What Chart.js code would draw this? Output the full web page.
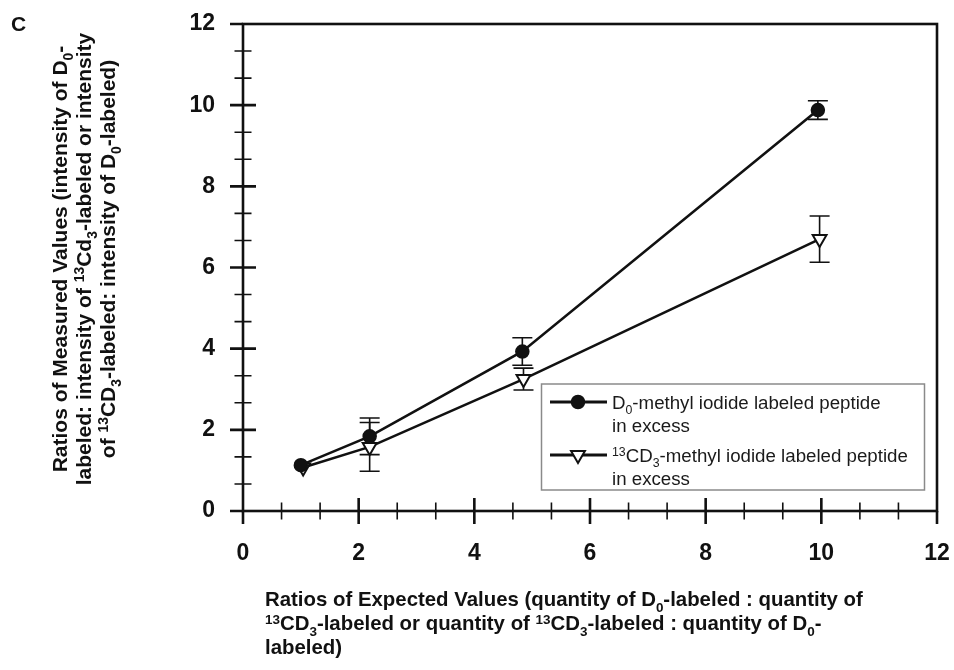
<!DOCTYPE html>
<html>
<head>
<meta charset="utf-8">
<script src="https://cdn.jsdelivr.net/npm/chart.js@4.4.1/dist/chart.umd.min.js"></script>
<style>
  html, body { margin: 0; padding: 0; background: #fff; }
  #wrap { width: 954px; height: 670px; }
</style>
</head>
<body>
<div id="wrap"><canvas id="chart" width="954" height="670"></canvas></div>
<script>
// expected ratios (x) and measured ratios (y) with error bars
const expectedD0 = [1.0, 2.19, 4.83, 9.94];
const measuredD0 = [1.13, 1.84, 3.93, 9.88];
const errorD0 = [0.04, 0.45, 0.34, 0.23];

const expected13C = [1.04, 2.19, 4.85, 9.97];
const measured13C = [1.07, 1.58, 3.25, 6.70];
const error13C = [0.03, 0.6, 0.27, 0.57];

const axisMin = 0;
const axisMax = 12;
const majorStep = 2;
const minorStep = 2 / 3;

const panelLetter = 'C';
const yTitle = [
    'Ratios of Measured Values (intensity of D_{0}-',
    'labeled: intensity of ^{13}Cd_{3}-labeled or intensity',
    'of ^{13}CD_{3}-labeled: intensity of D_{0}-labeled)'
];
const xTitle = [
    'Ratios of Expected Values (quantity of D_{0}-labeled : quantity of',
    '^{13}CD_{3}-labeled or quantity of ^{13}CD_{3}-labeled : quantity of D_{0}-',
    'labeled)'
];
const legendD0 = ['D_{0}-methyl iodide labeled peptide', 'in excess'];
const legend13C = ['^{13}CD_{3}-methyl iodide labeled peptide', 'in excess'];

const FONT = '"Liberation Sans", Arial, Helvetica, sans-serif';

// split "D_{0}" / "^{13}" markup into runs
function parseRich(str) {
    const out = [];
    const re = /([_^])\{([^}]*)\}/g;
    let last = 0, m;
    while ((m = re.exec(str)) !== null) {
        if (m.index > last) out.push({ t: str.slice(last, m.index), mode: 'n' });
        out.push({ t: m[2], mode: m[1] === '_' ? 'sub' : 'sup' });
        last = re.lastIndex;
    }
    if (last < str.length) out.push({ t: str.slice(last), mode: 'n' });
    return out;
}

function runFont(mode, size, weight) {
    const s = mode === 'n' ? size : size * 0.66;
    return weight + ' ' + s + 'px ' + FONT;
}

function richWidth(ctx, str, size, weight) {
    let w = 0;
    parseRich(str).forEach(r => {
        ctx.font = runFont(r.mode, size, weight);
        w += ctx.measureText(r.t).width;
    });
    return w;
}

// draws at alphabetic baseline y, starting at x
function drawRich(ctx, str, x, y, size, weight) {
    ctx.textBaseline = 'alphabetic';
    ctx.textAlign = 'left';
    parseRich(str).forEach(r => {
        ctx.font = runFont(r.mode, size, weight);
        let dy = 0;
        if (r.mode === 'sub') dy = size * 0.3;
        if (r.mode === 'sup') dy = -size * 0.3;
        ctx.fillText(r.t, x, y + dy);
        x += ctx.measureText(r.t).width;
    });
}

const framePlugin = {
    id: 'frame',
    beforeDatasetsDraw(chart) {
        const ctx = chart.ctx;
        const xs = chart.scales.x, ys = chart.scales.y;
        const ds = [
            { xv: expectedD0, yv: measuredD0, ev: errorD0 },
            { xv: expected13C, yv: measured13C, ev: error13C }
        ];
        ctx.save();
        ctx.strokeStyle = '#111';
        ctx.lineWidth = 1.6;
        ds.forEach(d => {
            d.xv.forEach((xv, i) => {
                const px = xs.getPixelForValue(xv);
                const top = ys.getPixelForValue(d.yv[i] + d.ev[i]);
                const bot = ys.getPixelForValue(d.yv[i] - d.ev[i]);
                if (bot - top < 4) return;
                ctx.beginPath();
                ctx.moveTo(px, top); ctx.lineTo(px, bot);
                ctx.moveTo(px - 10, top); ctx.lineTo(px + 10, top);
                ctx.moveTo(px - 10, bot); ctx.lineTo(px + 10, bot);
                ctx.stroke();
            });
        });
        ctx.restore();
    },
    afterDraw(chart) {
        const ctx = chart.ctx;
        const xs = chart.scales.x, ys = chart.scales.y;
        const a = chart.chartArea;
        ctx.save();
        ctx.strokeStyle = '#111';
        ctx.lineCap = 'butt';

        // ticks that cross the axes
        for (let v = axisMin; v <= axisMax + 1e-6; v += minorStep) {
            const isMajor = Math.abs(v / majorStep - Math.round(v / majorStep)) < 1e-6;
            const half = isMajor ? 13 : 8.5;
            ctx.lineWidth = isMajor ? 2.6 : 1.6;
            const px = xs.getPixelForValue(v);
            const py = ys.getPixelForValue(v);
            const inner = (v > axisMin + 1e-6 && v < axisMax - 1e-6) ? half : 0;
            ctx.beginPath();
            ctx.moveTo(px, a.bottom - inner); ctx.lineTo(px, a.bottom + half);
            ctx.moveTo(a.left - half, py); ctx.lineTo(a.left + inner, py);
            ctx.stroke();
        }

        // plot frame
        ctx.lineWidth = 2.6;
        ctx.strokeRect(a.left, a.top, a.right - a.left, a.bottom - a.top);

        // legend box
        const lx = 541.5, ly = 384, lw = 383, lh = 106;
        ctx.fillStyle = '#fff';
        ctx.fillRect(lx, ly, lw, lh);
        ctx.strokeStyle = '#8a8a8a';
        ctx.lineWidth = 1.5;
        ctx.strokeRect(lx, ly, lw, lh);

        const entries = [
            { text: legendD0, y: 402, style: chart.data.datasets[0] },
            { text: legend13C, y: 455, style: chart.data.datasets[1] }
        ];
        entries.forEach(e => {
            ctx.strokeStyle = '#111';
            ctx.lineWidth = 3;
            ctx.beginPath();
            ctx.moveTo(550, e.y); ctx.lineTo(607, e.y);
            ctx.stroke();
            ctx.fillStyle = e.style.pointBackgroundColor;
            ctx.strokeStyle = '#111';
            ctx.lineWidth = e.style.pointBorderWidth;
            Chart.helpers.drawPoint(ctx, {
                pointStyle: e.style.pointStyle,
                rotation: e.style.pointRotation || 0,
                radius: e.style.pointRadius,
                borderWidth: e.style.pointBorderWidth
            }, 578, e.y);
            ctx.fillStyle = '#1a1a1a';
            drawRich(ctx, e.text[0], 612, e.y + 6.5, 18.7, 'normal');
            drawRich(ctx, e.text[1], 612, e.y + 30, 18.7, 'normal');
        });

        // panel letter
        ctx.fillStyle = '#111';
        ctx.font = 'bold 21px ' + FONT;
        ctx.textBaseline = 'alphabetic';
        ctx.fillText(panelLetter, 11, 31);

        // y axis title, rotated, centred lines
        const yCenters = [59, 83, 107];
        ctx.save();
        ctx.translate(0, 259);
        ctx.rotate(-Math.PI / 2);
        yTitle.forEach((line, i) => {
            const w = richWidth(ctx, line, 21, 'bold');
            drawRich(ctx, line, -w / 2, yCenters[i] + 7.5, 21, 'bold');
        });
        ctx.restore();

        // x axis title, left aligned
        const xBase = [606, 630, 654];
        xTitle.forEach((line, i) => {
            drawRich(ctx, line, 265, xBase[i], 20.4, 'bold');
        });
        ctx.restore();
    }
};

const tickFont = { family: FONT, size: 23, weight: 'bold' };

// keep the plot area where the reference has it
function noPad(scale) {
    scale.paddingLeft = 0;
    scale.paddingRight = 0;
    scale.paddingTop = 0;
    scale.paddingBottom = 0;
}

new Chart(document.getElementById('chart'), {
    type: 'scatter',
    data: {
        datasets: [{
            label: 'D0-methyl iodide labeled peptide in excess',
            data: expectedD0.map((x, i) => ({ x: x, y: measuredD0[i] })),
            showLine: true,
            borderColor: '#111',
            borderWidth: 2.6,
            pointStyle: 'circle',
            pointRadius: 6.5,
            pointBackgroundColor: '#111',
            pointBorderColor: '#111',
            pointBorderWidth: 1.5
        }, {
            label: '13CD3-methyl iodide labeled peptide in excess',
            data: expected13C.map((x, i) => ({ x: x, y: measured13C[i] })),
            showLine: true,
            borderColor: '#111',
            borderWidth: 2.6,
            pointStyle: 'triangle',
            pointRotation: 180,
            pointRadius: 8,
            pointBackgroundColor: '#fff',
            pointBorderColor: '#111',
            pointBorderWidth: 2
        }]
    },
    options: {
        responsive: false,
        animation: false,
        events: [],
        layout: { padding: { top: 24, right: 17, left: 0, bottom: 0 } },
        plugins: {
            legend: { display: false },
            tooltip: { enabled: false }
        },
        scales: {
            x: {
                type: 'linear',
                min: axisMin,
                max: axisMax,
                ticks: { stepSize: majorStep, font: tickFont, color: '#111', padding: 29 },
                grid: { display: false, drawTicks: false },
                border: { display: false },
                afterFit(scale) { scale.height = 159; noPad(scale); }
            },
            y: {
                type: 'linear',
                min: axisMin,
                max: axisMax,
                ticks: { stepSize: majorStep, font: tickFont, color: '#111', padding: 28 },
                grid: { display: false, drawTicks: false },
                border: { display: false },
                afterFit(scale) { scale.width = 243; noPad(scale); }
            }
        }
    },
    plugins: [framePlugin]
});
</script>
</body>
</html>
